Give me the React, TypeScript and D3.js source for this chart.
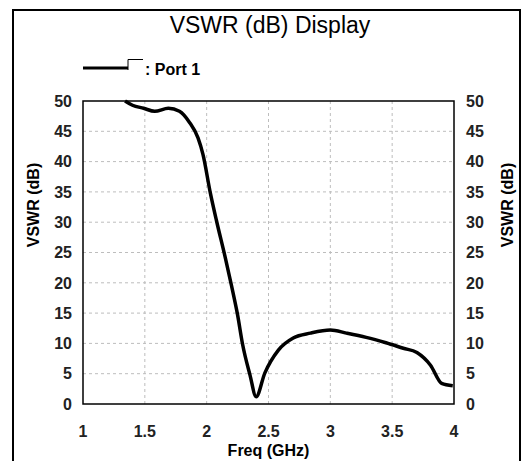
import React from 'react';
import * as d3 from 'd3';

// Port 1 trace
const freqGHz = [1.34, 1.4, 1.49, 1.58, 1.69, 1.78, 1.86, 1.93, 1.97, 2.03, 2.08, 2.15, 2.2, 2.25, 2.29, 2.35, 2.4, 2.47, 2.58, 2.7, 2.84, 3.0, 3.13, 3.29, 3.45, 3.59, 3.7, 3.81, 3.9, 3.99];
const vswrDb = [50, 49.3, 48.8, 48.3, 48.8, 48.3, 46.5, 43.9, 41.2, 34.8, 30.2, 24.2, 19.6, 14.7, 9.9, 4.8, 1.2, 5.1, 8.9, 10.9, 11.7, 12.2, 11.7, 11.0, 10.1, 9.2, 8.5, 6.4, 3.4, 3.0];
const xTicks = [1, 1.5, 2, 2.5, 3, 3.5, 4];
const yTicks = [0, 5, 10, 15, 20, 25, 30, 35, 40, 45, 50];

const W = 523;
const H = 461;
const margin = { top: 101, right: 69, bottom: 57, left: 83 };
const font = 'Arial, "Liberation Sans", sans-serif';

export default function App() {
  const innerW = W - margin.left - margin.right;
  const innerH = H - margin.top - margin.bottom;

  const x = d3.scaleLinear().domain([1, 4]).range([0, innerW]);
  const y = d3.scaleLinear().domain([0, 50]).range([innerH, 0]);

  const line = d3
    .line<number>()
    .x((d, i) => x(freqGHz[i]))
    .y(d => y(d))
    .curve(d3.curveMonotoneX);

  return (
    <svg
      width={W}
      height={H}
      style={{ position: 'absolute', left: 0, top: 0, background: '#fff' }}
      fontFamily={font}
    >
      <rect x={13} y={10} width={507} height={470} fill="none" stroke="#000" strokeWidth={2} />

      <text x={270} y={33} textAnchor="middle" fontSize={23}>
        VSWR (dB) Display
      </text>

      {/* legend */}
      <line x1={83} x2={128} y1={68} y2={68} stroke="#000" strokeWidth={3} />
      <path d="M128,70V59.5H143" fill="none" stroke="#000" strokeWidth={1} />
      <text x={145} y={75} fontSize={16} fontWeight="bold">
        : Port 1
      </text>

      <g transform={`translate(${margin.left},${margin.top})`}>
        {/* grid */}
        {xTicks.slice(1, -1).map(t => (
          <line key={'gx' + t} x1={x(t)} x2={x(t)} y1={0} y2={innerH} stroke="#bdbdbd" strokeDasharray="3,3" />
        ))}
        {yTicks.slice(1, -1).map(t => (
          <line key={'gy' + t} x1={0} x2={innerW} y1={y(t)} y2={y(t)} stroke="#bdbdbd" strokeDasharray="3,3" />
        ))}

        <rect x={0} y={0} width={innerW} height={innerH} fill="none" stroke="#000" strokeWidth={1.5} />

        <path d={line(vswrDb) || ''} fill="none" stroke="#000" strokeWidth={3.5} strokeLinejoin="round" />

        {/* y ticks, both sides */}
        {yTicks.map(t => (
          <g key={'yt' + t} fontSize={16} fontWeight="bold" fill="#222">
            <text x={-11} y={y(t)} dy="0.36em" textAnchor="end">{t}</text>
            <text x={innerW + 12} y={y(t)} dy="0.36em" textAnchor="start">{t}</text>
          </g>
        ))}

        {xTicks.map(t => (
          <text key={'xt' + t} x={x(t)} y={innerH + 33} textAnchor="middle" fontSize={16} fontWeight="bold" fill="#222">
            {t}
          </text>
        ))}

        <text x={innerW / 2} y={innerH + 52} textAnchor="middle" fontSize={16} fontWeight="bold">
          Freq (GHz)
        </text>
        <text transform={`translate(${-50},${104}) rotate(-90)`} textAnchor="middle" dy="0.35em" fontSize={16} fontWeight="bold">
          VSWR (dB)
        </text>
        <text transform={`translate(${innerW + 53},${104}) rotate(-90)`} textAnchor="middle" dy="0.35em" fontSize={16} fontWeight="bold">
          VSWR (dB)
        </text>
      </g>
    </svg>
  );
}
